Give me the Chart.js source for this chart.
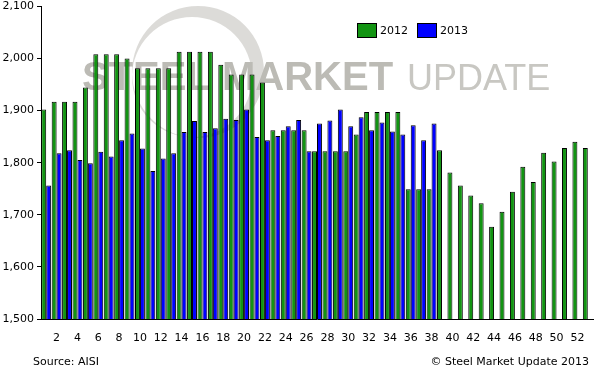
<!DOCTYPE html>
<html>
<head>
<meta charset="utf-8">
<script src="https://cdn.jsdelivr.net/npm/chart.js@4/dist/chart.umd.min.js"></script>
<style>
  html, body { margin: 0; padding: 0; background: #fff; }
  #wrap { width: 595px; height: 368px; position: relative; }
</style>
</head>
<body>
<div id="wrap"><canvas id="chart"></canvas></div>
<script>
// week numbers (2012 had 53 weeks)
var weeks = [1,2,3,4,5,6,7,8,9,10,11,12,13,14,15,16,17,18,19,20,21,22,23,24,25,26,
             27,28,29,30,31,32,33,34,35,36,37,38,39,40,41,42,43,44,45,46,47,48,49,50,51,52,53];

var series2012 = [1902,1917,1917,1917,1944,2008,2008,2008,2000,1981,1981,1981,1981,
                  2013,2013,2013,2013,1988,1969,1969,1969,1954,1862,1862,1862,1862,
                  1822,1822,1822,1822,1854,1897,1897,1897,1897,1749,1749,1749,1824,
                  1781,1756,1737,1722,1677,1706,1744,1792,1763,1819,1802,1828,1840,1828];

var series2013 = [1756,1818,1824,1805,1799,1821,1812,1843,1856,1827,1784,1808,1818,
                  1859,1880,1859,1866,1884,1882,1902,1849,1843,1851,1870,1882,1822,
                  1875,1881,1902,1870,1887,1862,1877,1860,1854,1872,1843,1875];

var yTicks = [1500, 1600, 1700, 1800, 1900, 2000, 2100];
var sourceText = 'Source: AISI';
var creditText = '\u00A9 Steel Market Update 2013';

var FONT = '"DejaVu Sans", sans-serif';

// logo watermark behind the bars
var watermark = {
    id: 'watermark',
    beforeDatasetsDraw: function(chart) {
        var c = chart.ctx;
        c.save();
        c.fillStyle = 'rgba(205,204,199,0.7)';
        c.beginPath();
        c.arc(198, 72, 66, 0, Math.PI * 2);
        c.arc(192, 77, 60, 0, Math.PI * 2, true);
        c.fill('evenodd');
        c.textBaseline = 'alphabetic';
        c.fillStyle = '#bcbbb5';
        c.font = 'bold 40px "Liberation Sans", Arial, sans-serif';
        c.fillText('STEEL MARKET', 82, 90);
        c.fillStyle = '#c8c7c2';
        c.font = '36px "Liberation Sans", Arial, sans-serif';
        c.fillText('UPDATE', 407, 90);
        c.restore();
    }
};

// legend boxes + footer texts
var extras = {
    id: 'extras',
    afterDraw: function(chart) {
        var c = chart.ctx;
        c.save();
        c.font = '11px ' + FONT;
        c.textBaseline = 'middle';
        var x = 357;
        chart.data.datasets.forEach(function(ds) {
            c.fillStyle = ds.backgroundColor;
            c.fillRect(x, 23, 20, 15);
            c.strokeStyle = '#000';
            c.lineWidth = 1;
            c.strokeRect(x + 0.5, 23.5, 19, 14);
            c.fillStyle = '#000';
            c.fillText(ds.label, x + 23, 31);
            x += 60;
        });
        c.textBaseline = 'alphabetic';
        c.fillText(sourceText, 33, 365);
        c.textAlign = 'right';
        c.fillText(creditText, 589, 365);
        c.restore();
    }
};

new Chart(document.getElementById('chart'), {
    type: 'bar',
    data: {
        labels: weeks,
        datasets: [
            { label: '2012', data: series2012, backgroundColor: '#129412', borderColor: '#000', borderWidth: 1 },
            { label: '2013', data: series2013, backgroundColor: '#0000ff', borderColor: '#000', borderWidth: 1 }
        ]
    },
    options: {
        responsive: true, maintainAspectRatio: false, animation: false,
        devicePixelRatio: 1,
        layout: { padding: { top: 0, right: 2, bottom: 23, left: 0 } },
        datasets: { bar: { categoryPercentage: 0.95, barPercentage: 1.0 } },
        plugins: { legend: { display: false }, tooltip: { enabled: false } },
        scales: {
            x: {
                grid: { display: false },
                border: { display: true, color: '#000', width: 1 },
                ticks: {
                    color: '#000', font: { family: FONT, size: 11 },
                    autoSkip: false, maxRotation: 0, padding: 5,
                    callback: function(v, i) { return weeks[i] % 2 === 0 ? weeks[i] : ''; }
                },
                afterFit: function(s) { s.height = 26; }
            },
            y: {
                min: yTicks[0], max: yTicks[yTicks.length - 1],
                grid: { drawOnChartArea: false, drawTicks: true, tickLength: 4, color: '#000' },
                border: { display: true, color: '#000', width: 1 },
                afterBuildTicks: function(s) { s.ticks = yTicks.map(function(v) { return { value: v }; }); },
                ticks: {
                    color: '#000', font: { family: FONT, size: 11, lineHeight: 0.6 }, padding: 3,
                    callback: function(v) { return v.toLocaleString('en-US'); }
                },
                afterFit: function(s) { s.width = 41; }
            }
        }
    },
    plugins: [watermark, extras]
});
</script>
</body>
</html>
